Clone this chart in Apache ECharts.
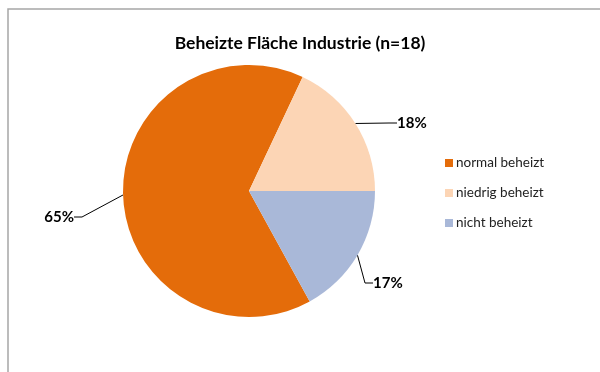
<!DOCTYPE html>
<html>
<head>
<meta charset="utf-8">
<style>
  html, body { margin: 0; padding: 0; background: #fff; }
  #chart { width: 600px; height: 372px; }
</style>
<script src="https://cdn.jsdelivr.net/npm/echarts@6/dist/echarts.min.js"></script>
</head>
<body>
<div id="chart"></div>
<script>
// Heated floor area in industrial buildings (share of buildings, n=18)
const categories = ['normal beheizt', 'niedrig beheizt', 'nicht beheizt'];
const shares = [65, 18, 17];
const colors = ['#E46C0A', '#FCD5B5', '#A9B8D8'];
const titleText = 'Beheizte Fläche Industrie (n=18)';

// where each percentage label sits: [x, y, align]
const labelSpots = [
  [77, 217, 'right'],
  [394, 123, 'left'],
  [370, 283, 'left']
];

const chart = echarts.init(document.getElementById('chart'), null, { renderer: 'canvas' });

const fontFamily = 'Lato, "Open Sans", sans-serif';

chart.setOption({
  animation: false,
  backgroundColor: '#fff',
  color: colors,
  graphic: [{
    type: 'rect',
    shape: { x: 8, y: 9, width: 620, height: 400 },
    style: { fill: 'none', stroke: '#A6A6A6', lineWidth: 1.5 },
    silent: true
  }],
  title: {
    text: titleText,
    left: 295,
    top: 29,
    textAlign: 'center',
    textStyle: { fontFamily, fontSize: 17.5, fontWeight: 'bold', color: '#000' }
  },
  legend: {
    orient: 'vertical',
    left: 440,
    top: 151,
    itemWidth: 8,
    itemHeight: 8,
    itemGap: 16,
    icon: 'rect',
    data: categories,
    textStyle: { fontFamily, fontSize: 13.5, color: '#222', padding: [0, 0, 0, -2] }
  },
  series: [{
    type: 'pie',
    center: [249, 191],
    radius: [0, 126],
    startAngle: -61.2,
    clockwise: true,
    avoidLabelOverlap: false,
    data: categories.map((name, i) => ({ name, value: shares[i] })),
    itemStyle: { borderWidth: 0 },
    label: {
      show: true,
      position: 'outside',
      formatter: p => p.value + '%',
      fontFamily,
      fontSize: 15,
      fontWeight: 'bold',
      color: '#000',
      padding: [0, 3]
    },
    labelLine: {
      show: true,
      length: 10,
      length2: 8,
      lineStyle: { color: '#000', width: 1 }
    },
    labelLayout: p => {
      const s = labelSpots[p.dataIndex];
      return { x: s[0], y: s[1], align: s[2], verticalAlign: 'middle' };
    },
    emphasis: { disabled: true }
  }]
});
</script>
</body>
</html>
